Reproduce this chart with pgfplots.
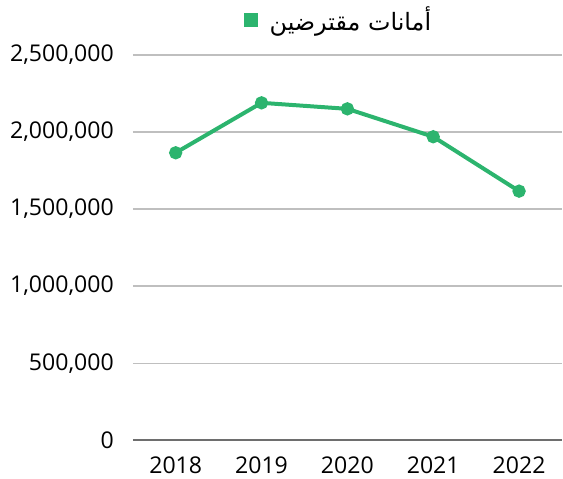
\documentclass[border=0pt]{standalone}
\usepackage{fontspec}
\setmainfont{Open Sans}
\newfontfamily\arabicfont[Script=Arabic]{DejaVu Sans}
\TeXXeTstate=1
\usepackage{pgfplots}
\pgfplotsset{compat=1.18}

\definecolor{lineGreen}{RGB}{44,180,110}
\definecolor{gridGray}{RGB}{191,191,191}
\definecolor{axisGray}{RGB}{110,110,110}

\begin{document}
\begin{tikzpicture}
\begin{axis}[
    name=ax,
    scale only axis,
    width=215bp, height=193bp,
    xmin=-0.5, xmax=4.5,
    ymin=0, ymax=2500000,
    xtick={0,1,2,3,4},
    xticklabels={2018,2019,2020,2021,2022},
    ytick={0,500000,1000000,1500000,2000000,2500000},
    scaled y ticks=false,
    /pgf/number format/.cd, fixed, 1000 sep={,}, assume math mode=true,
    /pgfplots/.cd,
    ymajorgrids,
    grid style={gridGray, line width=0.6bp},
    major tick length=0pt,
    axis x line*=bottom,
    axis y line*=left,
    x axis line style={-, axisGray, line width=0.8bp},
    y axis line style={draw=none},
    tick label style={font=\fontsize{11.6}{13}\selectfont, black},
    yticklabel style={xshift=-6bp},
    xticklabel style={yshift=-5bp},
    legend style={at={(0.5,1)}, anchor=center, xshift=-4bp, yshift=17.5bp, draw=none,
        font=\fontsize{12}{14}\selectfont},
    legend image code/.code={\fill[lineGreen] (0bp,-2.5bp) rectangle (5bp,2.5bp); \path (9bp,0bp);},
]
\addplot[lineGreen, line width=2bp, mark=*, mark size=2.3bp,
    mark options={fill=lineGreen, draw=lineGreen}] coordinates {
    (0,1865000) (1,2189000) (2,2150000) (3,1969000) (4,1616000)
};
\addlegendentry{\arabicfont\beginR أمانات مقترضين\endR}
\end{axis}
\pgfresetboundingbox
\path ([xshift=-66.5bp,yshift=-19bp]ax.south west) rectangle ([xshift=0.5bp,yshift=27.5bp]ax.north east);
\end{tikzpicture}
\end{document}
